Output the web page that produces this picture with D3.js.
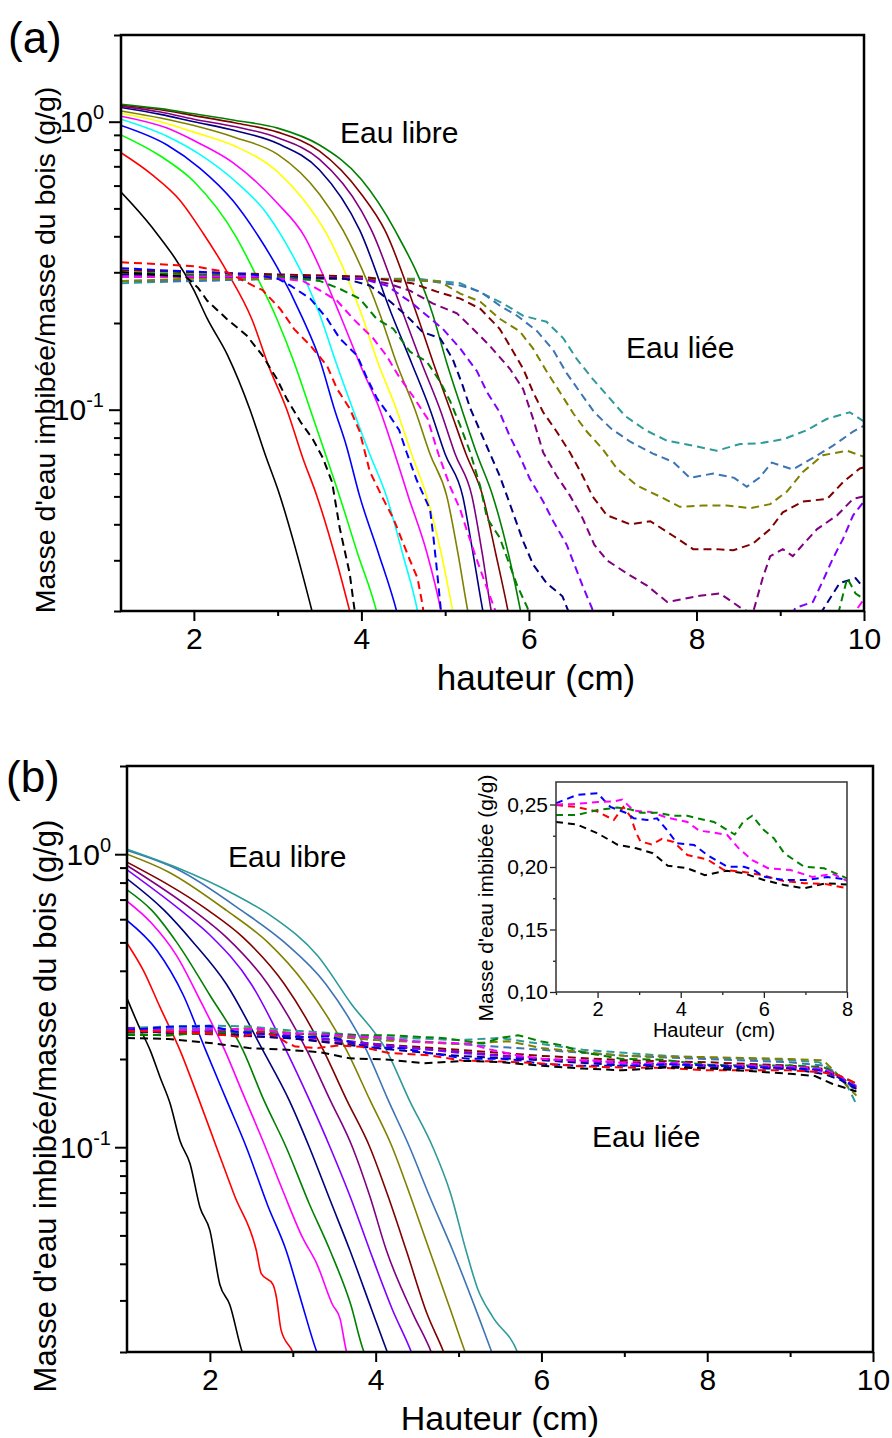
<!DOCTYPE html>
<html><head><meta charset="utf-8">
<script src="https://cdn.jsdelivr.net/npm/d3@7"></script>
<style>body{margin:0;background:#fff} svg{display:block} text{font-family:"Liberation Sans",Arial,sans-serif;fill:#000}</style>
</head><body><svg id="c" width="892" height="1438"></svg>
<script>
// ---------------- DATA ----------------
const xTicksMain = [2,4,6,8,10];
const xMinorMain = [3,5,7,9];
const yMajor = [0.1, 1];
const yMajorLabels = [["10","-1"],["10","0"]];
const yMinor = [0.02,0.03,0.04,0.05,0.06,0.07,0.08,0.09,0.2,0.3,0.4,0.5,0.6,0.7,0.8,0.9,2];
const insetXTicks = [2,4,6,8];
const insetXMinor = [1,3,5,7];
const insetYTicks = [0.10,0.15,0.20,0.25];
const insetYTickLabels = ["0,10","0,15","0,20","0,25"];
const insetYMinor = [0.125,0.175,0.225];

// Panel (a) — free water (solid)
const aS_black  = [[1.13,0.57],[1.5,0.43],[2.0,0.26],[2.16,0.207],[2.4,0.155],[2.67,0.10],[2.85,0.07],[3.03,0.05],[3.2,0.034],[3.41,0.02],[3.45,0.018]];
const aS_red    = [[1.13,0.78],[1.5,0.655],[1.83,0.535],[2.11,0.41],[2.4,0.30],[2.69,0.207],[2.9,0.14],[3.11,0.10],[3.3,0.068],[3.47,0.05],[3.7,0.03],[3.86,0.02],[3.9,0.018]];
const aS_lime   = [[1.13,0.90],[1.6,0.76],[2.0,0.62],[2.5,0.40],[2.75,0.29],[2.99,0.207],[3.2,0.145],[3.39,0.10],[3.55,0.073],[3.74,0.05],[3.95,0.032],[4.18,0.02],[4.22,0.018]];
const aS_blue   = [[1.13,0.97],[1.68,0.83],[2.07,0.69],[2.47,0.53],[2.77,0.40],[3.0,0.31],[3.3,0.207],[3.5,0.15],[3.68,0.10],[3.82,0.075],[3.98,0.05],[4.2,0.032],[4.42,0.02],[4.46,0.018]];
const aS_cyan   = [[1.13,1.02],[1.68,0.89],[2.07,0.77],[2.47,0.63],[2.87,0.48],[3.05,0.40],[3.5,0.215],[3.7,0.145],[3.9,0.10],[4.1,0.07],[4.3,0.05],[4.5,0.031],[4.67,0.02],[4.7,0.018]];
const aS_mag    = [[1.13,1.045],[1.68,0.95],[2.0,0.86],[2.47,0.72],[3.0,0.52],[3.32,0.40],[3.55,0.29],[3.74,0.215],[4.0,0.14],[4.22,0.10],[4.4,0.07],[4.56,0.05],[4.78,0.032],[4.95,0.02],[4.98,0.018]];
const aS_yellow = [[1.13,1.07],[1.6,1.0],[2.0,0.92],[2.5,0.82],[3.0,0.67],[3.3,0.54],[3.58,0.41],[4.0,0.215],[4.2,0.145],[4.42,0.10],[4.6,0.07],[4.78,0.05],[4.95,0.032],[5.09,0.02],[5.12,0.018]];
const aS_olive  = [[1.13,1.09],[1.6,1.03],[2.0,0.97],[2.5,0.88],[3.0,0.77],[3.5,0.56],[3.78,0.42],[4.22,0.215],[4.42,0.145],[4.64,0.10],[4.82,0.07],[5.02,0.05],[5.15,0.032],[5.27,0.02],[5.3,0.018]];
const aS_navy   = [[1.13,1.12],[1.6,1.06],[2.0,1.0],[2.5,0.93],[3.0,0.84],[3.5,0.68],[3.98,0.42],[4.36,0.215],[4.6,0.145],[4.82,0.10],[5.0,0.07],[5.21,0.05],[5.33,0.032],[5.45,0.02],[5.48,0.018]];
const aS_purple = [[1.13,1.13],[1.6,1.08],[2.0,1.02],[2.5,0.96],[3.0,0.88],[3.5,0.74],[4.0,0.49],[4.12,0.42],[4.5,0.215],[4.72,0.145],[4.94,0.10],[5.12,0.07],[5.32,0.05],[5.44,0.032],[5.55,0.02],[5.58,0.018]];
const aS_maroon = [[1.13,1.14],[1.6,1.1],[2.0,1.05],[2.5,0.99],[3.0,0.92],[3.5,0.79],[4.0,0.56],[4.28,0.42],[4.66,0.215],[4.86,0.145],[5.06,0.10],[5.25,0.07],[5.45,0.05],[5.6,0.032],[5.75,0.02],[5.78,0.018]];
const aS_green  = [[1.13,1.15],[1.6,1.11],[2.0,1.065],[2.5,1.01],[3.0,0.95],[3.5,0.83],[4.0,0.63],[4.4,0.42],[4.85,0.215],[5.02,0.145],[5.2,0.10],[5.38,0.07],[5.57,0.05],[5.75,0.032],[5.9,0.02],[5.93,0.018]];

// Panel (a) — bound water (dashed)
const aD_black  = [[1.13,0.30],[1.5,0.295],[1.9,0.29],[2.05,0.265],[2.16,0.239],[2.39,0.207],[2.63,0.181],[2.82,0.154],[2.99,0.128],[3.11,0.109],[3.27,0.091],[3.42,0.079],[3.54,0.068],[3.65,0.056],[3.74,0.039],[3.86,0.027],[3.92,0.02],[3.95,0.018]];
const aD_red    = [[1.13,0.325],[1.6,0.32],[2.0,0.315],[2.4,0.30],[2.7,0.27],[2.82,0.26],[3.03,0.224],[3.2,0.19],[3.39,0.167],[3.59,0.142],[3.71,0.118],[3.86,0.101],[3.98,0.084],[4.10,0.061],[4.26,0.049],[4.38,0.042],[4.58,0.030],[4.67,0.026],[4.73,0.021],[4.76,0.018]];
const aD_blue   = [[1.13,0.31],[1.6,0.305],[2.2,0.30],[2.7,0.295],[3.0,0.285],[3.15,0.27],[3.39,0.243],[3.59,0.207],[3.74,0.177],[3.95,0.154],[4.07,0.128],[4.19,0.109],[4.34,0.095],[4.45,0.085],[4.54,0.071],[4.66,0.057],[4.82,0.045],[4.86,0.036],[4.90,0.028],[4.95,0.02],[4.97,0.018]];
const aD_mag    = [[1.13,0.29],[2.0,0.29],[2.8,0.29],[3.3,0.28],[3.5,0.26],[3.71,0.239],[3.90,0.207],[4.14,0.177],[4.30,0.154],[4.45,0.13],[4.61,0.112],[4.79,0.093],[4.92,0.07],[5.06,0.054],[5.18,0.045],[5.26,0.038],[5.38,0.030],[5.5,0.024],[5.6,0.02],[5.65,0.018],[6.0,0.012],[9.7,0.012],[9.9,0.02],[10,0.022]];
const aD_green  = [[1.13,0.30],[2.0,0.295],[3.0,0.29],[3.5,0.28],[3.74,0.263],[3.98,0.243],[4.18,0.207],[4.38,0.191],[4.58,0.159],[4.78,0.147],[4.94,0.125],[5.06,0.107],[5.18,0.088],[5.30,0.071],[5.42,0.054],[5.50,0.042],[5.65,0.036],[5.86,0.0245],[5.98,0.0206],[6.02,0.019],[6.5,0.012],[9.3,0.012],[9.7,0.02],[9.8,0.026],[9.9,0.023],[10,0.022]];
const aD_navy   = [[1.13,0.295],[2.0,0.29],[3.0,0.29],[3.8,0.285],[4.1,0.27],[4.26,0.249],[4.54,0.212],[4.73,0.186],[4.94,0.177],[5.09,0.150],[5.21,0.121],[5.30,0.101],[5.42,0.084],[5.65,0.059],[5.74,0.050],[5.93,0.035],[6.05,0.029],[6.21,0.025],[6.4,0.0225],[6.5,0.019],[7.0,0.012],[9.0,0.012],[9.5,0.02],[9.71,0.025],[9.9,0.026],[10,0.024]];
const aD_violet = [[1.13,0.29],[2.0,0.29],[3.0,0.29],[4.0,0.285],[4.3,0.27],[4.6,0.235],[4.97,0.191],[5.18,0.163],[5.38,0.136],[5.50,0.115],[5.65,0.098],[5.77,0.081],[5.89,0.069],[6.01,0.0576],[6.17,0.048],[6.29,0.041],[6.45,0.034],[6.64,0.0245],[6.76,0.0202],[6.85,0.018],[7.5,0.012],[8.8,0.012],[9.18,0.0205],[9.39,0.0215],[9.51,0.0255],[9.63,0.0305],[9.75,0.0356],[9.87,0.043],[10,0.048]];
const aD_purple = [[1.13,0.29],[2.0,0.29],[3.0,0.29],[4.0,0.285],[4.3,0.275],[4.58,0.259],[4.85,0.234],[5.14,0.216],[5.33,0.191],[5.53,0.167],[5.77,0.139],[5.93,0.118],[6.05,0.093],[6.17,0.071],[6.33,0.059],[6.49,0.0503],[6.64,0.042],[6.78,0.034],[6.93,0.030],[7.17,0.027],[7.41,0.0245],[7.65,0.0215],[7.84,0.022],[8.04,0.0226],[8.28,0.023],[8.52,0.0206],[8.67,0.0195],[8.79,0.026],[8.88,0.031],[9.03,0.0328],[9.15,0.031],[9.27,0.034],[9.44,0.0385],[9.68,0.043],[9.87,0.049],[10,0.05]];
const aD_maroon = [[1.13,0.305],[2.0,0.30],[3.0,0.295],[4.0,0.29],[4.6,0.275],[4.90,0.257],[5.18,0.243],[5.42,0.224],[5.65,0.191],[5.77,0.167],[5.93,0.139],[6.05,0.115],[6.17,0.098],[6.33,0.084],[6.49,0.071],[6.64,0.059],[6.76,0.050],[6.93,0.043],[7.21,0.040],[7.45,0.041],[7.72,0.0365],[7.96,0.0328],[8.24,0.0328],[8.44,0.0325],[8.67,0.0342],[8.88,0.0385],[9.03,0.044],[9.27,0.048],[9.56,0.049],[9.75,0.056],[9.95,0.0625],[10,0.063]];
const aD_olive  = [[1.13,0.28],[2.0,0.285],[3.0,0.285],[4.0,0.285],[4.6,0.283],[4.94,0.278],[5.18,0.253],[5.42,0.237],[5.65,0.207],[5.89,0.187],[6.05,0.163],[6.21,0.136],[6.37,0.115],[6.53,0.097],[6.69,0.084],[6.88,0.073],[7.05,0.0625],[7.29,0.0545],[7.56,0.050],[7.80,0.046],[8.08,0.0465],[8.36,0.0465],[8.64,0.0455],[8.88,0.047],[9.08,0.052],[9.27,0.0608],[9.51,0.0695],[9.80,0.072],[10,0.0686]];
const aD_steel  = [[1.13,0.28],[2.0,0.28],[3.0,0.285],[4.0,0.285],[4.8,0.28],[5.18,0.27],[5.42,0.257],[5.65,0.23],[5.86,0.212],[6.10,0.187],[6.29,0.161],[6.45,0.134],[6.61,0.115],[6.78,0.098],[6.98,0.086],[7.21,0.0774],[7.48,0.0704],[7.72,0.0659],[7.92,0.058],[8.2,0.060],[8.45,0.058],[8.6,0.054],[8.75,0.058],[8.9,0.0655],[9.15,0.062],[9.39,0.068],[9.63,0.075],[9.87,0.084],[10,0.088]];
const aD_teal   = [[1.13,0.275],[2.0,0.28],[3.0,0.285],[4.0,0.285],[4.66,0.285],[4.90,0.28],[5.18,0.275],[5.45,0.253],[5.69,0.234],[5.93,0.212],[6.21,0.202],[6.41,0.177],[6.57,0.15],[6.76,0.128],[6.97,0.109],[7.15,0.095],[7.39,0.085],[7.65,0.078],[7.96,0.075],[8.24,0.072],[8.52,0.076],[8.76,0.0765],[9.04,0.079],[9.32,0.085],[9.56,0.093],[9.83,0.098],[10,0.091]];

// Panel (b) — free water (solid)
const bS_black  = [[1,0.322],[1.14,0.26],[1.28,0.214],[1.40,0.173],[1.52,0.141],[1.64,0.105],[1.76,0.088],[1.88,0.0624],[2.0,0.052],[2.12,0.034],[2.24,0.029],[2.39,0.02],[2.42,0.019]];
const bS_red    = [[1,0.497],[1.2,0.40],[1.4,0.30],[1.64,0.214],[1.85,0.15],[2.08,0.10],[2.3,0.068],[2.56,0.0444],[2.62,0.037],[2.76,0.034],[2.80,0.031],[2.86,0.0237],[3.0,0.02],[3.03,0.019]];
const bS_blue   = [[1,0.594],[1.36,0.47],[1.68,0.33],[1.95,0.214],[2.2,0.145],[2.44,0.10],[2.7,0.063],[2.92,0.0444],[3.1,0.03],[3.29,0.02],[3.32,0.019]];
const bS_mag    = [[1,0.691],[1.3,0.58],[1.6,0.45],[1.9,0.31],[2.18,0.214],[2.40,0.152],[2.64,0.105],[2.88,0.071],[3.12,0.049],[3.29,0.040],[3.48,0.029],[3.57,0.026],[3.65,0.02],[3.68,0.019]];
const bS_green  = [[1,0.756],[1.3,0.643],[1.6,0.50],[2.0,0.33],[2.40,0.214],[2.65,0.145],[2.92,0.10],[3.2,0.064],[3.45,0.0444],[3.7,0.029],[3.86,0.02],[3.9,0.019]];
const bS_navy   = [[1,0.824],[1.45,0.643],[1.8,0.50],[2.2,0.36],[2.64,0.214],[2.96,0.144],[3.20,0.10],[3.45,0.066],[3.69,0.0444],[3.95,0.028],[4.14,0.02],[4.17,0.019]];
const bS_violet = [[1,0.885],[1.65,0.643],[2.0,0.53],[2.5,0.36],[2.92,0.214],[3.2,0.145],[3.45,0.10],[3.7,0.067],[3.93,0.0444],[4.2,0.028],[4.43,0.02],[4.46,0.019]];
const bS_purple = [[1,0.915],[1.8,0.643],[2.2,0.52],[2.7,0.36],[3.17,0.214],[3.45,0.145],[3.72,0.10],[3.93,0.068],[4.13,0.0444],[4.45,0.027],[4.67,0.02],[4.7,0.019]];
const bS_maroon = [[1,0.939],[1.98,0.643],[2.4,0.52],[2.9,0.36],[3.37,0.214],[3.65,0.145],[3.93,0.10],[4.15,0.068],[4.37,0.0444],[4.62,0.027],[4.82,0.02],[4.85,0.019]];
const bS_olive  = [[1,1.0],[1.5,0.87],[2.2,0.643],[2.7,0.50],[3.15,0.36],[3.65,0.214],[3.93,0.145],[4.20,0.10],[4.42,0.068],[4.65,0.0444],[4.9,0.028],[5.08,0.02],[5.11,0.019]];
const bS_steel  = [[1,1.03],[1.6,0.89],[2.38,0.643],[2.9,0.50],[3.4,0.36],[3.89,0.214],[4.15,0.145],[4.41,0.10],[4.65,0.068],[4.93,0.0444],[5.25,0.026],[5.40,0.02],[5.43,0.019]];
const bS_teal   = [[1,1.04],[1.6,0.90],[2.28,0.733],[2.76,0.61],[3.3,0.45],[3.7,0.31],[4.13,0.214],[4.41,0.144],[4.69,0.10],[4.9,0.07],[5.09,0.0444],[5.23,0.0329],[5.41,0.0264],[5.71,0.02],[5.74,0.019]];

// Panel (b) & inset — bound water (dashed)
const bD_black  = [[1,0.236],[1.5,0.234],[2.0,0.227],[2.47,0.218],[2.93,0.215],[3.33,0.211],[3.69,0.201],[4.16,0.199],[4.58,0.1935],[5.1,0.197],[5.52,0.195],[6.0,0.1896],[6.49,0.1856],[6.97,0.183],[7.5,0.187],[8.0,0.186],[8.5,0.182],[9.0,0.178],[9.3,0.175],[9.5,0.165],[9.8,0.155]];
const bD_red    = [[1,0.2496],[1.5,0.248],[2.0,0.2443],[2.39,0.2376],[2.62,0.248],[2.8,0.240],[2.92,0.228],[3.03,0.2205],[3.3,0.218],[3.55,0.2225],[3.83,0.220],[4.16,0.2096],[4.64,0.206],[5.04,0.1976],[5.52,0.196],[5.95,0.1936],[6.45,0.189],[6.97,0.187],[7.47,0.1865],[8.0,0.183],[8.5,0.183],[9.0,0.183],[9.4,0.18],[9.6,0.175],[9.8,0.165]];
const bD_blue   = [[1,0.251],[1.5,0.2576],[2.0,0.259],[2.31,0.248],[2.71,0.243],[2.87,0.239],[3.19,0.2376],[3.43,0.239],[3.67,0.2296],[3.91,0.219],[4.32,0.2176],[4.64,0.2096],[5.12,0.2002],[5.52,0.2002],[5.76,0.1976],[6.0,0.1922],[6.49,0.1896],[7.05,0.1896],[7.53,0.192],[8.0,0.190],[8.5,0.188],[9.0,0.186],[9.4,0.183],[9.6,0.172],[9.8,0.16]];
const bD_mag    = [[1,0.250],[1.5,0.2505],[2.0,0.252],[2.39,0.2525],[2.59,0.254],[2.87,0.245],[3.27,0.244],[3.67,0.2395],[4.16,0.236],[4.45,0.229],[4.72,0.228],[5.12,0.2256],[5.38,0.2155],[5.72,0.2055],[6.1,0.199],[6.64,0.1976],[7.17,0.192],[7.65,0.1945],[8.0,0.189],[8.5,0.19],[9.0,0.188],[9.4,0.185],[9.6,0.175],[9.8,0.16]];
const bD_green  = [[1,0.2416],[1.5,0.2416],[2.0,0.2456],[2.47,0.2475],[2.8,0.246],[3.03,0.2435],[3.43,0.2435],[3.83,0.241],[4.16,0.241],[4.4,0.239],[4.8,0.236],[5.12,0.2296],[5.30,0.226],[5.5,0.236],[5.72,0.241],[6.0,0.2296],[6.24,0.223],[6.49,0.211],[6.97,0.2002],[7.45,0.199],[8.0,0.191],[8.5,0.19],[9.0,0.19],[9.4,0.188],[9.6,0.175],[9.8,0.165]];
const bD_navy   = [[1,0.248],[2.0,0.245],[3.0,0.235],[4.0,0.218],[5.0,0.205],[6.0,0.198],[7.0,0.19],[8.0,0.187],[9.0,0.185],[9.4,0.178],[9.6,0.17],[9.8,0.158]];
const bD_violet = [[1,0.255],[1.5,0.25],[2.0,0.248],[3.0,0.24],[4.0,0.225],[5.0,0.21],[6.0,0.2],[7.0,0.193],[8.0,0.19],[9.0,0.187],[9.4,0.182],[9.6,0.172],[9.8,0.162]];
const bD_purple = [[1,0.252],[1.5,0.245],[2.0,0.243],[3.0,0.235],[4.0,0.222],[5.0,0.212],[6.0,0.2],[7.0,0.195],[8.0,0.19],[9.0,0.188],[9.4,0.183],[9.6,0.172],[9.8,0.16]];
const bD_maroon = [[1,0.255],[1.5,0.248],[2.0,0.25],[2.5,0.245],[3.0,0.24],[4.0,0.225],[5.0,0.215],[6.0,0.205],[7.0,0.198],[8.0,0.195],[9.0,0.19],[9.4,0.185],[9.6,0.175],[9.8,0.158]];
const bD_olive  = [[1,0.245],[1.5,0.24],[2.0,0.25],[2.5,0.255],[3.0,0.245],[4.0,0.232],[5.0,0.225],[5.6,0.23],[6.0,0.218],[7.0,0.205],[8.0,0.203],[9.0,0.2],[9.4,0.198],[9.55,0.18],[9.7,0.16],[9.8,0.15]];
const bD_steel  = [[1,0.252],[2.0,0.255],[2.5,0.25],[3.0,0.245],[4.0,0.235],[5.0,0.225],[6.0,0.215],[7.0,0.205],[8.0,0.2],[9.0,0.195],[9.4,0.19],[9.6,0.175],[9.8,0.155]];
const bD_teal   = [[1,0.255],[1.5,0.258],[2.0,0.26],[2.5,0.258],[3.0,0.25],[3.5,0.245],[4.0,0.238],[4.5,0.235],[5.0,0.232],[5.5,0.236],[6.0,0.225],[6.5,0.215],[7.0,0.21],[7.5,0.205],[8.0,0.202],[8.5,0.2],[9.0,0.198],[9.35,0.195],[9.55,0.18],[9.7,0.16],[9.8,0.14]];

// ---------------- STYLE / SERIES LISTS ----------------
const C = {black:"#000000",red:"#FF0000",lime:"#00FF00",blue:"#0000FF",cyan:"#00FFFF",mag:"#FF00FF",yellow:"#FFFF00",
  olive:"#808000",navy:"#000080",purple:"#800080",maroon:"#800000",green:"#008000",violet:"#8000FF",steel:"#3C74B4",teal:"#2E9A9A"};
const aSolid = [[aS_black,C.black],[aS_red,C.red],[aS_lime,C.lime],[aS_blue,C.blue],[aS_cyan,C.cyan],[aS_mag,C.mag],[aS_yellow,C.yellow],
  [aS_olive,C.olive],[aS_navy,C.navy],[aS_purple,C.purple],[aS_maroon,C.maroon],[aS_green,C.green]];
const aDashed = [[aD_teal,C.teal],[aD_steel,C.steel],[aD_olive,C.olive],[aD_maroon,C.maroon],[aD_purple,C.purple],[aD_violet,C.violet],
  [aD_navy,C.navy],[aD_green,C.green],[aD_mag,C.mag],[aD_blue,C.blue],[aD_red,C.red],[aD_black,C.black]];
const bSolid = [[bS_black,C.black],[bS_red,C.red],[bS_blue,C.blue],[bS_mag,C.mag],[bS_green,C.green],[bS_navy,C.navy],[bS_violet,C.violet],
  [bS_purple,C.purple],[bS_maroon,C.maroon],[bS_olive,C.olive],[bS_steel,C.steel],[bS_teal,C.teal]];
const bDashed = [[bD_teal,C.teal],[bD_steel,C.steel],[bD_olive,C.olive],[bD_maroon,C.maroon],[bD_purple,C.purple],[bD_violet,C.violet],
  [bD_navy,C.navy],[bD_green,C.green],[bD_mag,C.mag],[bD_blue,C.blue],[bD_red,C.red],[bD_black,C.black]];
const insetDashed = [[bD_black,C.black],[bD_red,C.red],[bD_blue,C.blue],[bD_mag,C.mag],[bD_green,C.green]];

const svg = d3.select("#c");
svg.append("rect").attr("width",892).attr("height",1438).attr("fill","#fff");

function drawPanel(p){
  const x = d3.scaleLinear().domain(p.xDomain).range([p.left,p.right]);
  const y = d3.scaleLog().domain([0.02,2]).range([p.bottom,p.top]);
  const cid = "clip"+p.name;
  svg.append("clipPath").attr("id",cid).append("rect")
    .attr("x",p.left).attr("y",p.top).attr("width",p.right-p.left).attr("height",p.bottom-p.top);
  const g = svg.append("g").attr("clip-path",`url(#${cid})`);
  const lineS = d3.line().x(d=>x(d[0])).y(d=>y(d[1])).curve(d3.curveMonotoneX);
  const lineD = d3.line().x(d=>x(d[0])).y(d=>y(d[1]));
  p.solid.forEach(([data,col])=>g.append("path").attr("d",lineS(data)).attr("fill","none")
    .attr("stroke",col).attr("stroke-width",1.6).attr("stroke-linejoin","round"));
  p.dashed.forEach(([data,col])=>g.append("path").attr("d",lineD(data)).attr("fill","none")
    .attr("stroke",col).attr("stroke-width",2).attr("stroke-dasharray","8,5"));

  const ax = svg.append("g");
  ax.append("g").attr("transform",`translate(0,${p.bottom})`)
    .call(d3.axisBottom(x).tickValues(xMinorMain).tickSize(5).tickFormat(""));
  const xb = ax.append("g").attr("transform",`translate(0,${p.bottom})`)
    .call(d3.axisBottom(x).tickValues(xTicksMain).tickSize(10).tickPadding(10).tickFormat(d3.format("d")));
  xb.selectAll("text").attr("font-size",30).attr("dy",null).attr("y",38);
  ax.append("g").attr("transform",`translate(${p.left},0)`)
    .call(d3.axisLeft(y).tickValues(yMinor).tickSize(7).tickFormat(""));
  const yb = ax.append("g").attr("transform",`translate(${p.left},0)`)
    .call(d3.axisLeft(y).tickValues(yMajor).tickSize(12).tickFormat(""));
  yMajor.forEach((v,i)=>{
    const t = yb.append("text").attr("x",-p.labelGap).attr("y",y(v)+10.5).attr("text-anchor","end").attr("font-size",30);
    t.append("tspan").text(yMajorLabels[i][0]);
    t.append("tspan").attr("font-size",20).attr("dy",-13).text(yMajorLabels[i][1]);
  });
  ax.selectAll(".domain").remove();
  ax.selectAll(".tick line").attr("stroke","#000").attr("stroke-width",2);
  svg.append("rect").attr("x",p.left).attr("y",p.top).attr("width",p.right-p.left).attr("height",p.bottom-p.top)
    .attr("fill","none").attr("stroke","#000").attr("stroke-width",2.5);
  return {x,y};
}

drawPanel({name:"a",left:121,right:864,top:35,bottom:611,xDomain:[1.13,10],solid:aSolid,dashed:aDashed,labelGap:17});
drawPanel({name:"b",left:127,right:873,top:766,bottom:1352,xDomain:[1,10],solid:bSolid,dashed:bDashed,labelGap:16});

// texts panel a
svg.append("text").attr("x",8).attr("y",53).attr("font-size",44).text("(a)");
svg.append("text").attr("x",340).attr("y",143).attr("font-size",30).text("Eau libre");
svg.append("text").attr("x",626).attr("y",358).attr("font-size",30).text("Eau liée");
svg.append("text").attr("x",536).attr("y",690).attr("text-anchor","middle").attr("font-size",35).text("hauteur (cm)");
svg.append("text").attr("transform","translate(55,350) rotate(-90)").attr("text-anchor","middle").attr("font-size",28.5)
  .text("Masse d'eau imbibée/masse du bois (g/g)");
// texts panel b
svg.append("text").attr("x",6).attr("y",792).attr("font-size",44).text("(b)");
svg.append("text").attr("x",228).attr("y",867).attr("font-size",30).text("Eau libre");
svg.append("text").attr("x",592).attr("y",1147).attr("font-size",30).text("Eau liée");
svg.append("text").attr("x",500).attr("y",1430).attr("text-anchor","middle").attr("font-size",34).text("Hauteur (cm)");
svg.append("text").attr("transform","translate(56,1106) rotate(-90)").attr("text-anchor","middle").attr("font-size",31)
  .text("Masse d'eau imbibée/masse du bois (g/g)");

// ---------------- INSET ----------------
(function(){
  const L=556,R=847,T=782,B=992;
  const x = d3.scaleLinear().domain([1,8]).range([L,R]);
  const y = d3.scaleLinear().domain([0.10,0.268]).range([B,T]);
  svg.append("rect").attr("x",L).attr("y",T).attr("width",R-L).attr("height",B-T).attr("fill","#fff");
  svg.append("clipPath").attr("id","clipIn").append("rect").attr("x",L).attr("y",T).attr("width",R-L).attr("height",B-T);
  const g = svg.append("g").attr("clip-path","url(#clipIn)");
  const line = d3.line().x(d=>x(d[0])).y(d=>y(d[1]));
  insetDashed.forEach(([data,col])=>g.append("path").attr("d",line(data.filter(d=>d[0]<=8.2))).attr("fill","none")
    .attr("stroke",col).attr("stroke-width",2).attr("stroke-dasharray","7,5"));
  const ax = svg.append("g");
  ax.append("g").attr("transform",`translate(0,${B})`).call(d3.axisBottom(x).tickValues(insetXMinor).tickSize(3).tickFormat(""));
  const xb = ax.append("g").attr("transform",`translate(0,${B})`).call(d3.axisBottom(x).tickValues(insetXTicks).tickSize(6).tickFormat(d3.format("d")));
  xb.selectAll("text").attr("font-size",20).attr("dy",null).attr("y",24);
  ax.append("g").attr("transform",`translate(${L},0)`).call(d3.axisLeft(y).tickValues(insetYMinor).tickSize(3).tickFormat(""));
  const yb = ax.append("g").attr("transform",`translate(${L},0)`).call(d3.axisLeft(y).tickValues(insetYTicks).tickSize(6).tickFormat((d,i)=>insetYTickLabels[i]));
  yb.selectAll("text").attr("font-size",21).attr("x",-8);
  ax.selectAll(".domain").remove();
  ax.selectAll(".tick line").attr("stroke","#222").attr("stroke-width",1.3);
  svg.append("rect").attr("x",L).attr("y",T).attr("width",R-L).attr("height",B-T).attr("fill","none").attr("stroke","#333").attr("stroke-width",1.5);
  svg.append("text").attr("x",714).attr("y",1037).attr("text-anchor","middle").attr("font-size",20).attr("xml:space","preserve").text("Hauteur  (cm)");
  svg.append("text").attr("transform","translate(493,898) rotate(-90)").attr("text-anchor","middle").attr("font-size",21).text("Masse d'eau imbibée (g/g)");
})();
</script></body></html>
